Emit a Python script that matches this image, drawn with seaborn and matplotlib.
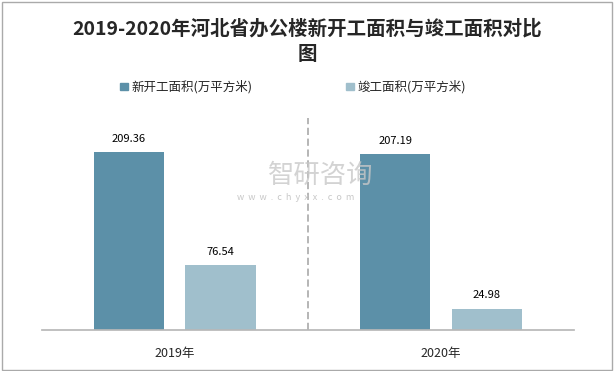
import pandas as pd
import matplotlib.pyplot as plt
import seaborn as sns
from matplotlib.patches import Rectangle

years = ['2019年', '2020年']
series = ['新开工面积(万平方米)', '竣工面积(万平方米)']
new_start = [209.36, 207.19]
completed = [76.54, 24.98]

df = pd.DataFrame({
    'year': years * 2,
    'series': [series[0]] * 2 + [series[1]] * 2,
    'value': new_start + completed,
})

sns.set_theme(style='white')
plt.rcParams['font.family'] = ['Noto Sans CJK SC', 'DejaVu Sans']

fig = plt.figure(figsize=(6.14, 3.71), dpi=100)
ax = fig.add_axes([0.068, 0.1105, 0.867, 0.5715])

colors = ['#5c90a8', '#a0bfcc']
sns.barplot(data=df, x='year', y='value', hue='series', order=years,
            hue_order=series, palette=colors, width=0.688, ax=ax,
            legend=False, saturation=1)

# narrow the bars, keep their centers
for p in ax.patches:
    c = p.get_x() + p.get_width() / 2
    p.set_width(0.264)
    p.set_x(c - 0.132)
    p.set_edgecolor('none')

for cont in ax.containers:
    ax.bar_label(cont, fmt='%.2f', padding=6, fontsize=8, color='black')

ax.set_xlim(-0.5, 1.5)
ax.set_ylim(0, 250)
ax.axvline(0.5, color='#b0b0b0', linestyle=(0, (4, 2)), linewidth=1.3)
for s in ['top', 'right', 'left']:
    ax.spines[s].set_visible(False)
ax.spines['bottom'].set_color('#b8b8b8')
ax.set_yticks([])
ax.set_xlabel('')
ax.set_ylabel('')
ax.tick_params(axis='x', length=0, pad=12, labelsize=9)

# legend
handles = [Rectangle((0, 0), 1, 1, color=c) for c in colors]
fig.legend(handles, series, loc='center', bbox_to_anchor=(0.477, 0.765),
           ncol=2, frameon=False, fontsize=9, handlelength=0.6,
           handleheight=0.6, handletextpad=0.3, columnspacing=7.5)

fig.text(0.5, 0.888, '2019-2020年河北省办公楼新开工面积与竣工面积对比\n图',
         ha='center', va='center', fontsize=14, fontweight='bold',
         linespacing=1.4)

# watermark
fig.text(0.437, 0.526, '智研咨询', fontsize=19, color='#c8c8c8', alpha=0.8,
         ha='left', va='center')
fig.text(0.386, 0.468, 'w  w  w  .  c  h  y  x  x  .  c  o  m', fontsize=6.5,
         color='#c8c8c8', ha='left', va='center')

fig.patches.append(Rectangle((0.003, 0.004), 0.993, 0.99, transform=fig.transFigure,
                             fill=False, edgecolor='#aaaaaa', linewidth=1))

fig.savefig('out.png', dpi=100)
